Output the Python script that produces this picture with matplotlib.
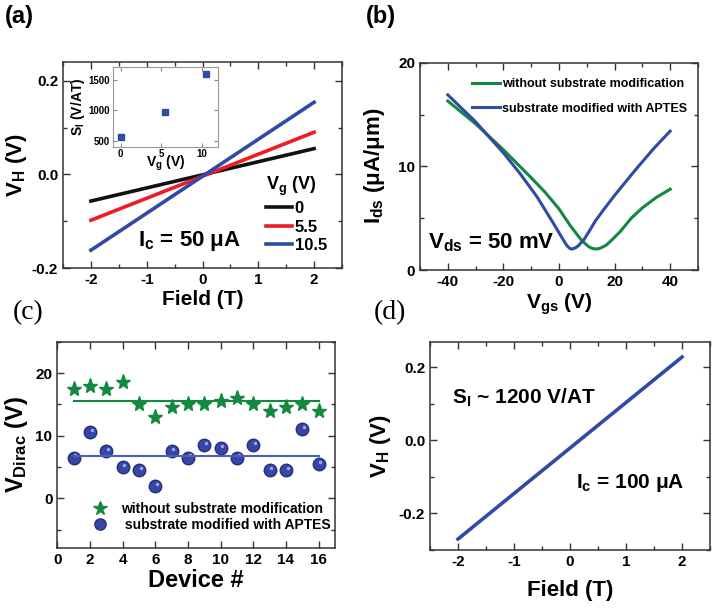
import numpy as np
import matplotlib
matplotlib.use("Agg")
import matplotlib.pyplot as plt
import matplotlib.transforms as mtrans
from matplotlib.ticker import MultipleLocator, FormatStrFormatter

plt.rcParams['font.family'] = 'Liberation Sans'
plt.rcParams['font.weight'] = 'bold'
plt.rcParams['axes.labelweight'] = 'bold'
plt.rcParams['axes.unicode_minus'] = False
plt.rcParams['mathtext.fontset'] = 'custom'
plt.rcParams['mathtext.rm'] = 'Liberation Sans:bold'
plt.rcParams['mathtext.it'] = 'Liberation Sans:bold'
plt.rcParams['mathtext.bf'] = 'Liberation Sans:bold'
plt.rcParams['mathtext.default'] = 'rm'

#%% data
# (a) Hall voltage vs field for three gate voltages
field_a = [-2, 2]
vg_labels = ["0", "5.5", "10.5"]
vh_vg0 = [-0.057, 0.055]
vh_vg55 = [-0.098, 0.090]
vh_vg105 = [-0.162, 0.154]
# inset: sensitivity vs gate voltage
vg_inset = [0, 5.5, 10.5]
si_inset = [555, 978, 1600]

# (b) transfer curves
vgs_green = [-40, -30, -20, -10, -5, 0, 4, 8, 10, 11, 12, 13, 14, 15, 17, 19,
             22, 26, 30, 35, 40]
ids_green = [16.3, 14.1, 11.6, 8.9, 7.5, 5.9, 4.3, 2.9, 2.4, 2.2, 2.08, 2.03,
             2.05, 2.12, 2.4, 2.9, 3.7, 5.0, 6.0, 7.0, 7.8]
vgs_blue = [-40, -30, -20, -14, -8, -2, 0, 2, 3, 4, 4.5, 5, 6, 7, 9, 11, 13,
            16, 20, 27, 34, 40]
ids_blue = [16.9, 14.3, 11.3, 9.3, 7.1, 4.5, 3.6, 2.7, 2.3, 2.07, 2.02, 2.05,
            2.15, 2.35, 2.95, 3.8, 4.7, 5.8, 7.2, 9.5, 11.7, 13.4]

# (c) Dirac point per device
device = list(range(1, 17))
vdirac_plain = [17.5, 18, 17.5, 18.5, 15, 13, 14.5, 15, 15, 15.5, 16, 15, 14, 14.5, 15, 14]
vdirac_aptes = [6.5, 10.5, 7.5, 5, 4.5, 2, 7.5, 6.5, 8.5, 8, 6.5, 8.5, 4.5, 4.5, 11, 5.5]

# (d) Hall voltage at Ic = 100 uA
field_d = [-2, 0, 2]
vh_d = [-0.27, -0.021, 0.228]

lab_plain = "without substrate modification"
lab_aptes = "substrate modified with APTES"

black = "#111111"
red = "#ee1c24"
blue = "#2f4ba6"
green = "#12893e"

W, H = 712.0, 608.0
def pos(l, t, r, b):
    return [l / W, 1 - b / H, (r - l) / W, (b - t) / H]

def style(ax, xmaj, xmin, ymaj, ymin, size=11):
    ax.xaxis.set_major_locator(MultipleLocator(xmaj))
    ax.xaxis.set_minor_locator(MultipleLocator(xmin))
    ax.yaxis.set_major_locator(MultipleLocator(ymaj))
    ax.yaxis.set_minor_locator(MultipleLocator(ymin))
    ax.tick_params(which="both", direction="in", top=True, right=True,
                   labelsize=size, width=1, color="#333333")
    ax.tick_params(which="major", length=5)
    ax.tick_params(which="minor", length=3)
    for s in ax.spines.values():
        s.set_color("#333333")
        s.set_linewidth(1.1)

def boldticks(ax):
    for t in ax.get_xticklabels() + ax.get_yticklabels():
        t.set_fontweight("bold")

fig = plt.figure(figsize=(7.12, 6.08), dpi=100)

#%% (a)
axa = fig.add_axes(pos(63, 62, 342, 268))
axa.plot(field_a, vh_vg0, color=black, lw=2.6, label=vg_labels[0])
axa.plot(field_a, vh_vg55, color=red, lw=2.6, label=vg_labels[1])
axa.plot(field_a, vh_vg105, color=blue, lw=2.6, label=vg_labels[2])
axa.set_xlim(-2.5, 2.5)
axa.set_ylim(-0.2, 0.24)
style(axa, 1, 0.5, 0.2, 0.1)
axa.yaxis.set_major_formatter(FormatStrFormatter("%.1f"))
axa.set_xlabel("Field (T)", fontsize=15, labelpad=2)
axa.set_ylabel("V$_H$ (V)", fontsize=16, labelpad=2)
leg = axa.legend(title="V$_g$ (V)", loc="lower right", frameon=False,
                 fontsize=12, title_fontsize=13, handlelength=1.6,
                 handletextpad=0.15, labelspacing=0.2,
                 bbox_to_anchor=(1.0, 0.0))
leg._legend_box.align = "left"
axa.text(0.27, 0.13, "I$_c$ = 50 μA", transform=axa.transAxes,
         fontsize=16, va="center")

axi = fig.add_axes(pos(112.7, 66.7, 218, 146.7))
axi.plot(vg_inset, si_inset, "s", color=blue, ms=5)
axi.set_xlim(-1, 12)
axi.set_ylim(400, 1720)
axi.xaxis.set_major_locator(MultipleLocator(5))
axi.yaxis.set_major_locator(MultipleLocator(500))
axi.tick_params(direction="in", top=True, right=True, labelsize=7,
                length=3, color="#888888", pad=2)
for s in axi.spines.values():
    s.set_color("#999999")
axi.set_xlabel("V$_g$ (V)", fontsize=10, labelpad=-4)
axi.set_ylabel("S$_I$ (V/AT)", fontsize=10, labelpad=1)

#%% (b)
axb = fig.add_axes(pos(420, 62.7, 698, 270))
axb.plot(vgs_green, ids_green, color=green, lw=2.2, label=lab_plain)
axb.plot(vgs_blue, ids_blue, color=blue, lw=2.2, label=lab_aptes)
axb.set_xlim(-50, 50)
axb.set_ylim(0, 20)
style(axb, 20, 10, 10, 5)
axb.set_xlabel("V$_{gs}$ (V)", fontsize=15, labelpad=2)
axb.set_ylabel("I$_{ds}$ (μA/μm)", fontsize=16, labelpad=8)
axb.legend(loc="upper right", frameon=False, fontsize=9, handlelength=2.3,
           handletextpad=0.1, labelspacing=1.0, bbox_to_anchor=(1.0, 0.98))
axb.text(0.03, 0.13, "V$_{ds}$ = 50 mV", transform=axb.transAxes,
         fontsize=16, va="center")

#%% (c)
axc = fig.add_axes(pos(57.3, 341.7, 335, 548.3))
axc.plot(device, vdirac_plain, "*", color=green, ms=11, ls="none",
         label=lab_plain)
axc.plot(device, vdirac_aptes, "o", color="#3646a8", mec="#26307a", ms=9,
         ls="none", label=" " + lab_aptes)
shine = mtrans.offset_copy(axc.transData, fig=fig, x=1.2, y=1.5,
                           units="points")
axc.plot(device, vdirac_aptes, "o", color="#9aa6e0", ms=2.5, mew=0,
         ls="none", transform=shine)
axc.plot([device[0], device[-1]], [np.mean(vdirac_plain)] * 2,
         color=green, lw=1.5)
axc.plot([device[0], device[-1]], [np.mean(vdirac_aptes)] * 2,
         color="#4a5fb8", lw=1.5)
axc.set_xlim(0, 17)
axc.set_ylim(-8, 25)
style(axc, 2, 1, 10, 5)
axc.tick_params(which="minor", bottom=False, top=False)
axc.set_xlabel("Device #", fontsize=17, labelpad=1)
axc.set_ylabel("V$_{Dirac}$ (V)", fontsize=17, labelpad=4)
axc.legend(loc="lower left", frameon=False, fontsize=10, handletextpad=0.5,
           labelspacing=0.15, bbox_to_anchor=(0.06, 0.02), markerscale=0.9)

#%% (d)
axd = fig.add_axes(pos(430, 341.7, 710, 550))
axd.plot(field_d, vh_d, color=blue, lw=2.6)
axd.set_xlim(-2.5, 2.5)
axd.set_ylim(-0.3, 0.27)
style(axd, 1, 0.5, 0.2, 0.1)
axd.yaxis.set_major_formatter(FormatStrFormatter("%.1f"))
axd.set_xlabel("Field (T)", fontsize=16, labelpad=8)
axd.set_ylabel("V$_H$ (V)", fontsize=16, labelpad=4)
axd.text(0.08, 0.73, "S$_I$ ~ 1200 V/AT", transform=axd.transAxes,
         fontsize=15, va="center")
axd.text(0.52, 0.32, "I$_c$ = 100 μA", transform=axd.transAxes,
         fontsize=15, va="center")

for ax in [axa, axi, axb, axc, axd]:
    boldticks(ax)

#%% panel labels
fig.text(5 / W, 1 - 17 / H, "(a)", fontsize=17, va="center")
fig.text(366 / W, 1 - 17 / H, "(b)", fontsize=17, va="center")
fig.text(13 / W, 1 - 313 / H, "(c)", fontsize=20, va="center",
         family="Liberation Serif", weight="normal")
fig.text(374 / W, 1 - 313 / H, "(d)", fontsize=20, va="center",
         family="Liberation Serif", weight="normal")

fig.savefig("out.png", dpi=100)
